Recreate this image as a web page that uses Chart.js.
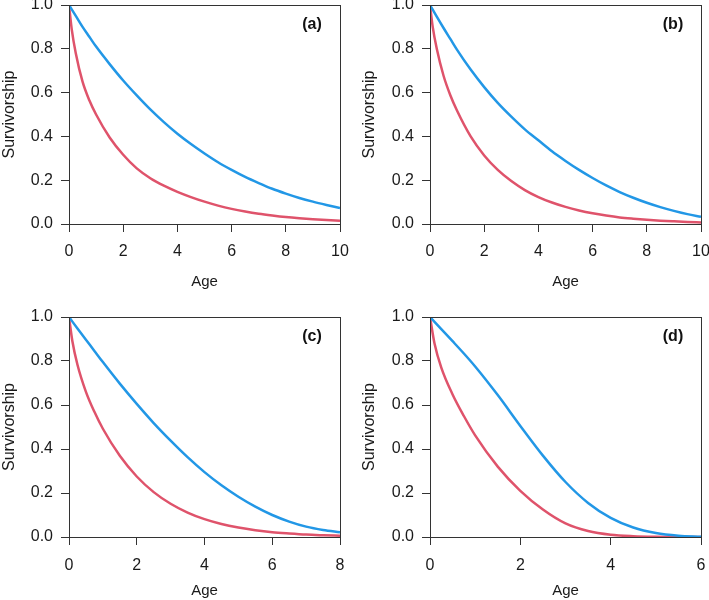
<!DOCTYPE html>
<html><head><meta charset="utf-8">
<script src="https://cdn.jsdelivr.net/npm/chart.js@4/dist/chart.umd.min.js"></script>
<style>
html,body{margin:0;padding:0;background:#fff;}
#wrap{position:relative;width:709px;height:600px;overflow:hidden;}
canvas{position:absolute;}
</style></head><body>
<div id="wrap">
<canvas id="ca" width="355" height="300" style="left:0;top:0"></canvas>
<canvas id="cb" width="354" height="300" style="left:355px;top:0"></canvas>
<canvas id="cc" width="355" height="300" style="left:0;top:300px"></canvas>
<canvas id="cd" width="354" height="300" style="left:355px;top:300px"></canvas>
</div>
<script>
// ---- data ----
const panelLabels = ['(a)', '(b)', '(c)', '(d)'];
const xTitle = 'Age';
const yTitle = 'Survivorship';
const yTickLabels = ['0.0', '0.2', '0.4', '0.6', '0.8', '1.0'];
const xMaxA = 10, xMaxB = 10, xMaxC = 8, xMaxD = 6;

const agesA = [0, 0.1, 0.25, 0.5, 0.75, 1, 1.5, 2, 2.5, 3, 3.5, 4, 4.5, 5, 5.5, 6, 6.5, 7, 7.5, 8, 8.5, 9, 9.5, 10];
const blueA = [1.0, 0.98, 0.95, 0.90, 0.855, 0.81, 0.73, 0.655, 0.587, 0.523, 0.465, 0.412, 0.365, 0.322, 0.282, 0.247, 0.215, 0.187, 0.161, 0.139, 0.119, 0.102, 0.087, 0.073];
const redA  = [1.0, 0.89, 0.78, 0.65, 0.565, 0.50, 0.395, 0.316, 0.254, 0.209, 0.175, 0.147, 0.123, 0.102, 0.084, 0.069, 0.057, 0.047, 0.039, 0.032, 0.0265, 0.022, 0.018, 0.015];

const agesB = [0, 0.1, 0.25, 0.5, 0.75, 1, 1.5, 2, 2.5, 3, 3.5, 4, 4.5, 5, 5.5, 6, 6.5, 7, 7.5, 8, 8.5, 9, 9.5, 10];
const blueB = [1.0, 0.979, 0.947, 0.895, 0.845, 0.795, 0.705, 0.625, 0.553, 0.49, 0.432, 0.382, 0.332, 0.288, 0.247, 0.21, 0.176, 0.146, 0.12, 0.097, 0.077, 0.06, 0.045, 0.033];
const redB  = [1.0, 0.90, 0.80, 0.677, 0.588, 0.517, 0.40, 0.313, 0.247, 0.196, 0.155, 0.123, 0.098, 0.078, 0.062, 0.049, 0.0386, 0.030, 0.024, 0.019, 0.015, 0.012, 0.0094, 0.0074];

const agesC = [0, 0.1, 0.25, 0.5, 0.75, 1, 1.5, 2, 2.5, 3, 3.5, 4, 4.5, 5, 5.5, 6, 6.5, 7, 7.5, 8];
const blueC = [1.0, 0.979, 0.948, 0.897, 0.846, 0.795, 0.697, 0.605, 0.518, 0.438, 0.363, 0.295, 0.235, 0.183, 0.138, 0.10, 0.07, 0.047, 0.032, 0.022];
const redC  = [1.0, 0.89, 0.783, 0.66, 0.569, 0.492, 0.369, 0.275, 0.204, 0.151, 0.111, 0.081, 0.059, 0.043, 0.031, 0.022, 0.016, 0.011, 0.008, 0.0056];

const agesD = [0, 0.1, 0.25, 0.5, 0.75, 1, 1.5, 2, 2.5, 3, 3.5, 4, 4.5, 5, 5.5, 6];
const blueD = [1.0, 0.978, 0.945, 0.89, 0.834, 0.775, 0.645, 0.505, 0.37, 0.25, 0.155, 0.087, 0.043, 0.018, 0.006, 0.0015];
const redD  = [1.0, 0.88, 0.77, 0.648, 0.55, 0.462, 0.32, 0.21, 0.125, 0.062, 0.027, 0.01, 0.0035, 0.001, 0.0003, 0.0];

// ---- styling ----
const BLUE = '#2297E6', RED = '#DF536B', AX = '#333333', TXT = '#1a1a1a';
const FONT = '"Liberation Sans", Arial, Helvetica, sans-serif';

const framePlugin = {
  id: 'frame',
  afterDatasetsDraw(chart, args, opts) {
    const {ctx, chartArea: {left, top, right, bottom}} = chart;
    ctx.save();
    ctx.strokeStyle = AX; ctx.lineWidth = 1;
    ctx.strokeRect(Math.round(left) + 0.5, Math.round(top) + 0.5, Math.round(right - left), Math.round(bottom - top));
    ctx.fillStyle = '#111';
    ctx.font = 'bold 16px ' + FONT;
    ctx.textAlign = 'center'; ctx.textBaseline = 'middle';
    ctx.fillText(opts.label, right - 28, top + 20);
    ctx.restore();
  }
};

function pts(xs, ys) { return xs.map((x, i) => ({x: x, y: ys[i]})); }

function makePanel(id, label, ages, blue, red, xMax, g) {
  new Chart(document.getElementById(id), {
    type: 'line',
    data: {
      datasets: [
        {data: pts(ages, blue), borderColor: BLUE, borderWidth: 2.5, pointRadius: 0, fill: false, cubicInterpolationMode: 'monotone'},
        {data: pts(ages, red), borderColor: RED, borderWidth: 2.5, pointRadius: 0, fill: false, cubicInterpolationMode: 'monotone'}
      ]
    },
    options: {
      responsive: false, animation: false,
      layout: {padding: {left: 0, top: g.top, right: g.right, bottom: 0}},
      plugins: {legend: {display: false}, tooltip: {enabled: false}, frame: {label: label}},
      scales: {
        x: {
          type: 'linear', min: 0, max: xMax,
          border: {display: false},
          grid: {display: true, drawOnChartArea: false, drawTicks: true, tickLength: 8, color: AX},
          ticks: {stepSize: 2, padding: g.xlPad, color: TXT, font: {family: FONT, size: 16}, maxRotation: 0},
          title: {display: true, text: xTitle, color: TXT, font: {family: FONT, size: 15}, padding: {top: 0, bottom: g.xtPad}},
          afterFit(s) { s.height = g.bottom; s.paddingLeft = 0; s.paddingRight = 0; }
        },
        y: {
          type: 'linear', min: 0, max: 1,
          border: {display: false},
          grid: {display: true, drawOnChartArea: false, drawTicks: true, tickLength: 8, color: AX},
          ticks: {stepSize: 0.2, padding: 8, color: TXT, font: {family: FONT, size: 16},
                  callback: (v) => yTickLabels[Math.round(v * 5)]},
          title: {display: true, text: yTitle, color: TXT, font: {family: FONT, size: 16}, padding: {top: g.ytPad, bottom: 0}},
          afterFit(s) { s.width = g.left; s.paddingTop = 0; s.paddingBottom = 0; }
        }
      }
    },
    plugins: [framePlugin]
  });
}

makePanel('ca', panelLabels[0], agesA, blueA, redA, xMaxA, {left: 69, top: 5, right: 15, bottom: 76, xlPad: 10, xtPad: 9, ytPad: 0});
makePanel('cb', panelLabels[1], agesB, blueB, redB, xMaxB, {left: 75, top: 5, right: 8, bottom: 76, xlPad: 10, xtPad: 9, ytPad: 5});
makePanel('cc', panelLabels[2], agesC, blueC, redC, xMaxC, {left: 69, top: 17, right: 15, bottom: 63, xlPad: 11, xtPad: 0, ytPad: 0});
makePanel('cd', panelLabels[3], agesD, blueD, redD, xMaxD, {left: 75, top: 17, right: 8, bottom: 63, xlPad: 11, xtPad: 0, ytPad: 5});
</script>
</body></html>
